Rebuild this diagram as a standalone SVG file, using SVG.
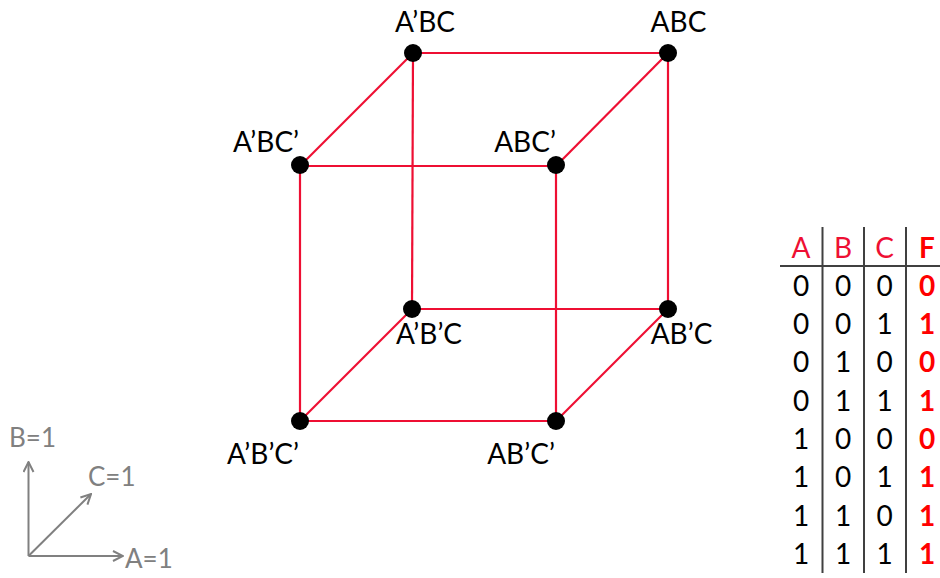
<svg xmlns="http://www.w3.org/2000/svg" width="940" height="578" viewBox="0 0 940 578">
<defs>
<style>
.edge{stroke:#ee0f33;stroke-width:2.2;fill:none}
.node{fill:#000}
.lbl{font-family:Lato,"Liberation Sans",sans-serif;font-size:28px;fill:#000;text-anchor:middle}
.ax{stroke:#808080;stroke-width:2;fill:none}
.axl{font-family:Lato,"Liberation Sans",sans-serif;font-size:26px;fill:#808080}
.tl{stroke:#404040;stroke-width:2}
.th{font-family:Lato,"Liberation Sans",sans-serif;font-size:28px;fill:#ee0f33;text-anchor:middle}
.td{font-family:Lato,"Liberation Sans",sans-serif;font-size:28px;fill:#000;text-anchor:middle}
.tf{font-family:Lato,"Liberation Sans",sans-serif;font-size:28px;fill:#ff0000;font-weight:bold;text-anchor:middle}
</style>
<marker id="arr" viewBox="0 0 12 12" refX="11" refY="6" markerWidth="12" markerHeight="12" markerUnits="userSpaceOnUse" orient="auto">
<path d="M1,1 L11,6 L1,11" fill="none" stroke="#808080" stroke-width="2"/>
</marker>
</defs>
<rect width="940" height="578" fill="#fff"/>
<g id="connectors">
<line class="edge" x1="300" y1="166" x2="556" y2="166"/>
<line class="edge" x1="556" y1="166" x2="556" y2="421"/>
<line class="edge" x1="556" y1="421" x2="300" y2="421"/>
<line class="edge" x1="300" y1="421" x2="300" y2="166"/>
<line class="edge" x1="413" y1="53" x2="668" y2="53"/>
<line class="edge" x1="668" y1="53" x2="668" y2="309"/>
<line class="edge" x1="668" y1="309" x2="412" y2="309"/>
<line class="edge" x1="412" y1="309" x2="413" y2="53"/>
<line class="edge" x1="300" y1="166" x2="413" y2="53"/>
<line class="edge" x1="556" y1="166" x2="668" y2="53"/>
<line class="edge" x1="556" y1="421" x2="668" y2="309"/>
<line class="edge" x1="300" y1="421" x2="412" y2="309"/>
</g>
<g id="n-AnBC"><circle class="node" cx="413" cy="53" r="9"/><text class="lbl" x="425" y="31.5">A’BC</text></g>
<g id="n-ABC"><circle class="node" cx="668" cy="53" r="9"/><text class="lbl" x="678.5" y="31.5">ABC</text></g>
<g id="n-AnBCn"><circle class="node" cx="300" cy="165" r="9"/><text class="lbl" x="266" y="151.5">A’BC’</text></g>
<g id="n-ABCn"><circle class="node" cx="556" cy="165" r="9"/><text class="lbl" x="525" y="151.5">ABC’</text></g>
<g id="n-AnBnC"><circle class="node" cx="412" cy="309" r="9"/><text class="lbl" x="429" y="344">A’B’C</text></g>
<g id="n-ABnC"><circle class="node" cx="668" cy="309" r="9"/><text class="lbl" x="681.5" y="344">AB’C</text></g>
<g id="n-AnBnCn"><circle class="node" cx="300" cy="421" r="9"/><text class="lbl" x="263" y="463.5">A’B’C’</text></g>
<g id="n-ABnCn"><circle class="node" cx="556" cy="421" r="9"/><text class="lbl" x="521" y="463.5">AB’C’</text></g>
<g id="axes">
<line class="ax" x1="28.5" y1="556" x2="28.5" y2="462" marker-end="url(#arr)"/>
<line class="ax" x1="28.5" y1="556" x2="91" y2="494" marker-end="url(#arr)"/>
<line class="ax" x1="28.5" y1="556" x2="123" y2="556" marker-end="url(#arr)"/>
<text class="axl" x="9" y="446.5">B=1</text>
<text class="axl" x="88" y="486">C=1</text>
<text class="axl" x="125" y="567.5">A=1</text>
</g>
<g id="truth-table">
<line class="tl" x1="822.5" y1="227" x2="822.5" y2="573"/>
<line class="tl" x1="864" y1="227" x2="864" y2="573"/>
<line class="tl" x1="906" y1="227" x2="906" y2="573"/>
<line class="tl" x1="780" y1="266" x2="940" y2="266"/>
<text class="th" x="801" y="257.5">A</text>
<text class="th" x="843" y="257.5">B</text>
<text class="th" x="884.5" y="257.5">C</text>
<text class="tf" x="927" y="257.5">F</text>
<text class="td" x="801" y="295.5">0</text><text class="td" x="843" y="295.5">0</text><text class="td" x="884.5" y="295.5">0</text>
<text class="td" x="801" y="334">0</text><text class="td" x="843" y="334">0</text><text class="td" x="884.5" y="334">1</text>
<text class="td" x="801" y="372">0</text><text class="td" x="843" y="372">1</text><text class="td" x="884.5" y="372">0</text>
<text class="td" x="801" y="410.5">0</text><text class="td" x="843" y="410.5">1</text><text class="td" x="884.5" y="410.5">1</text>
<text class="td" x="801" y="449">1</text><text class="td" x="843" y="449">0</text><text class="td" x="884.5" y="449">0</text>
<text class="td" x="801" y="487">1</text><text class="td" x="843" y="487">0</text><text class="td" x="884.5" y="487">1</text>
<text class="td" x="801" y="525.5">1</text><text class="td" x="843" y="525.5">1</text><text class="td" x="884.5" y="525.5">0</text>
<text class="td" x="801" y="564">1</text><text class="td" x="843" y="564">1</text><text class="td" x="884.5" y="564">1</text>
<text class="tf" x="927" y="295.5">0</text>
<text class="tf" x="927" y="334">1</text>
<text class="tf" x="927" y="372">0</text>
<text class="tf" x="927" y="410.5">1</text>
<text class="tf" x="927" y="449">0</text>
<text class="tf" x="927" y="487">1</text>
<text class="tf" x="927" y="525.5">1</text>
<text class="tf" x="927" y="564">1</text>
</g>
</svg>
